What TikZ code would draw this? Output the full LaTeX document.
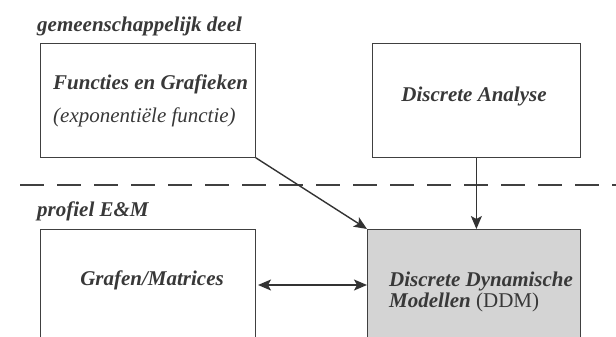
\documentclass[tikz,border=0pt]{standalone}
\usepackage{fontspec}
\setmainfont{Liberation Serif}
\usetikzlibrary{arrows.meta}
\begin{document}
\begin{tikzpicture}[x=1pt,y=-1pt,
  box/.style={draw=black!75,line width=0.8pt},
  lbl/.style={font=\fontsize{21}{24}\selectfont\bfseries\itshape,text=black!78,inner sep=0pt},
  tip/.style={Stealth[length=13pt,width=11pt,inset=3pt]},
  arr/.style={draw=black!80,line width=1.4pt,-{Stealth[length=13pt,width=11pt,inset=3pt]}},
  darr/.style={draw=black!80,line width=1.4pt,{Stealth[length=13pt,width=11pt,inset=3pt]}-{Stealth[length=13pt,width=11pt,inset=3pt]}}]
\useasboundingbox (0,0) rectangle (616,337);
% section labels
\node[lbl,anchor=base west] (gd) at (37,32) {gemeenschappelijk deel};
\node[lbl,anchor=base west] (pem) at (37,216) {profiel E\&M};
% dashed separator
\coordinate (dl) at (20,185);
\coordinate (dr) at (616,185);
\draw[black!75,line width=1.1pt,dash pattern=on 24pt off 13pt] (dl) -- (dr);
% boxes
\node[box,minimum width=215pt,minimum height=114pt,anchor=north west,inner sep=0pt] (fg) at (40,43) {};
\node[box,minimum width=208pt,minimum height=114pt,anchor=north west,inner sep=0pt] (da) at (372,43) {};
\draw[box] (40,337) -- (40,229) -- (255,229) -- (255,337);
\node[inner sep=0pt,minimum width=215pt,minimum height=108pt,anchor=north west] (gm) at (40,229) {};
\fill[black!17] (367,229) rectangle (580,337);
\draw[box] (367,337) -- (367,229) -- (580,229) -- (580,337);
\node[inner sep=0pt,minimum width=213pt,minimum height=108pt,anchor=north west] (ddm) at (367,229) {};
% texts
\node[lbl,anchor=base west] (t1) at (53,89) {Functies en Grafieken};
\node[lbl,anchor=base west,font=\fontsize{21}{24}\selectfont\itshape] (t2) at (53,122) {(exponentiële functie)};
\node[lbl,anchor=base] (t3) at (474,101) {Discrete Analyse};
\node[lbl,anchor=base] (t4) at (152,285) {Grafen/Matrices};
\node[lbl,anchor=base west] (t5) at (389,286) {Discrete Dynamische};
\node[lbl,anchor=base west] (t6) at (389,307) {Modellen \textmd{\textup{(DDM)}}};
% arrows
\draw[arr] (fg.south east) -- (ddm.north west);
\draw[arr] (da.south) -- (da.south |- ddm.north);
\draw[darr] (258,285) -- (ddm.west |- 0,285);
\end{tikzpicture}
\end{document}
